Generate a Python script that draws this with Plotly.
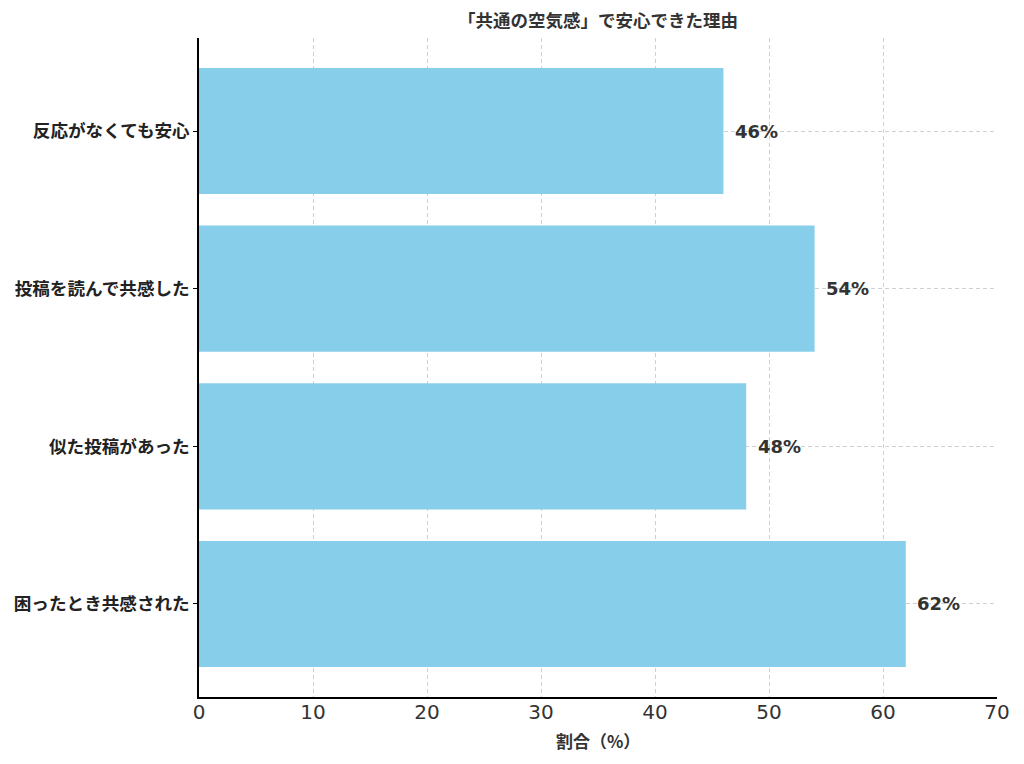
import plotly.graph_objects as go

categories = ["反応がなくても安心", "投稿を読んで共感した", "似た投稿があった", "困ったとき共感された"]
values = [46, 54, 48, 62]
value_labels = ["46%", "54%", "48%", "62%"]
x_ticks = [0, 10, 20, 30, 40, 50, 60, 70]

title_text = "「共通の空気感」で安心できた理由"
x_title = "割合（%）"

jp_font = "Noto Sans CJK JP"

fig = go.Figure()
fig.add_trace(go.Bar(
    x=values, y=categories, orientation="h",
    marker=dict(color="#87CEEB", line=dict(width=0)),
    width=0.8,
))

for v, c, t in zip(values, categories, value_labels):
    fig.add_annotation(x=v + 1, y=c, text="<b>" + t + "</b>", showarrow=False,
                       xanchor="left", yanchor="middle", xshift=-2,
                       font=dict(family="DejaVu Sans", size=18, color="#333333"))

# x-axis title placed below tick labels
fig.add_annotation(x=0.5, y=-(740 - 697) / 659, xref="paper", yref="paper",
                   text="<b>" + x_title + "</b>", showarrow=False,
                   xanchor="center", yanchor="middle",
                   font=dict(family=jp_font, size=17, color="#333333"))

fig.update_layout(
    width=1024, height=764,
    paper_bgcolor="white", plot_bgcolor="white",
    margin=dict(l=191, r=35, t=30, b=75),
    showlegend=False,
    title=dict(text="<b>" + title_text + "</b>", x=(191 + 989) / 2 / 1024, xanchor="center",
               y=1 - 13 / 764, yanchor="middle",
               font=dict(family=jp_font, size=17.5, color="#333333")),
)

fig.update_xaxes(
    range=[0, 70], tickvals=x_ticks, ticktext=[str(v) for v in x_ticks],
    showline=True, linecolor="black", linewidth=1.5,
    ticks="",
    showgrid=True, gridcolor="#d0d0d0", griddash="4px,3px", gridwidth=0.8,
    tickfont=dict(family="DejaVu Sans", size=20, color="#333333"),
    ticklabelstandoff=-4,
    zeroline=False,
    automargin=False,
)
fig.update_yaxes(
    categoryorder="array", categoryarray=categories,
    tickvals=categories, ticktext=["<b>" + c + "</b>" for c in categories],
    range=[3.59, -0.59],
    showline=True, linecolor="black", linewidth=1.5,
    ticks="outside", ticklen=4, tickcolor="black", tickwidth=1,
    showgrid=True, gridcolor="#d0d0d0", griddash="4px,3px", gridwidth=0.8,
    tickfont=dict(family=jp_font, size=17.6, color="#222222"),
    ticklabelstandoff=0,
    automargin=False,
)

fig.write_html("out.html")
